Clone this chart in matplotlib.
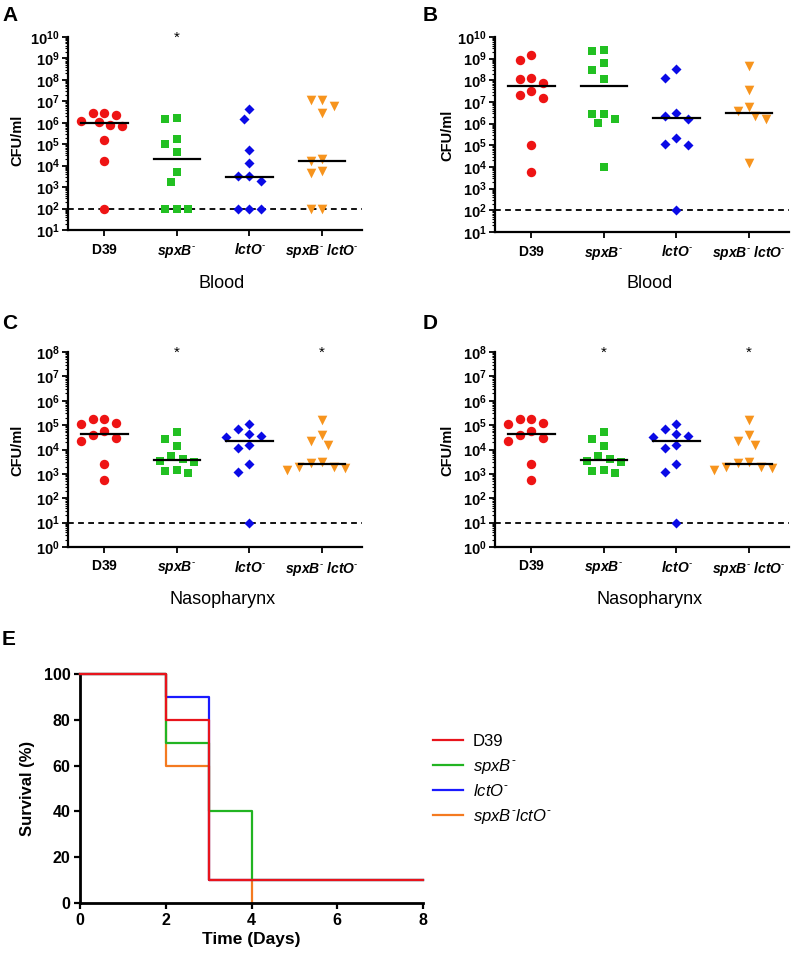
import numpy as np
import matplotlib
matplotlib.use('Agg')
import matplotlib.pyplot as plt
from matplotlib.ticker import LogLocator, FuncFormatter, NullFormatter, MultipleLocator
from matplotlib.lines import Line2D

plt.rcParams['font.family'] = ['Liberation Sans', 'DejaVu Sans']
plt.rcParams['mathtext.fontset'] = 'custom'
plt.rcParams['mathtext.rm'] = 'Liberation Sans'
plt.rcParams['mathtext.it'] = 'Liberation Sans:italic'
plt.rcParams['mathtext.bf'] = 'Liberation Sans:bold'
plt.rcParams['mathtext.bfit'] = 'Liberation Sans:italic:bold'

# =========================
# data (CFU/ml)
# =========================
groups = ['D39', 'spxB-', 'lctO-', 'spxB- lctO-']
group_labels = [
    r'$\mathbf{D39}$',
    r'$\mathbfit{spxB}^{\mathbf{\text{-}}}$',
    r'$\mathbfit{lctO}^{\mathbf{\text{-}}}$',
    r'$\mathbfit{spxB}^{\mathbf{\text{-}}}\ \mathbfit{lctO}^{\mathbf{\text{-}}}$',
]

# A - blood
blood_a_d39 = [2.9e6, 2.9e6, 2.4e6, 1.2e6, 1.1e6, 8.3e5, 6.9e5, 1.5e5, 1.7e4, 1e2]
blood_a_spxb = [1.6e6, 1.45e6, 1.8e5, 1.0e5, 4.2e4, 4.9e3, 1.8e3, 1e2, 1e2, 1e2]
blood_a_lcto = [4.3e6, 1.45e6, 5.4e4, 1.4e4, 3.2e3, 3.2e3, 2.0e3, 1e2, 1e2, 1e2]
blood_a_dko = [1.1e7, 1.1e7, 5.9e6, 2.9e6, 2.0e4, 1.6e4, 5.6e3, 4.4e3, 1e2, 1e2]
blood_a_median = [1.0e6, 2.1e4, 3.1e3, 1.7e4]

# B - blood
blood_b_d39 = [1.5e9, 8.3e8, 1.3e8, 1.1e8, 7.6e7, 3.2e7, 2.2e7, 1.6e7, 1.0e5, 5.9e3]
blood_b_spxb = [2.6e9, 2.2e9, 6.3e8, 3.1e8, 1.1e8, 2.9e6, 2.9e6, 1.6e6, 1.1e6, 1.0e4]
blood_b_lcto = [3.2e8, 1.3e8, 3.1e6, 2.2e6, 1.7e6, 2.2e5, 1.2e5, 1.0e5, 1e2]
blood_b_dko = [4.6e8, 3.5e7, 5.9e6, 3.7e6, 2.2e6, 1.6e6, 1.5e4]
blood_b_median = [5.2e7, 5.6e7, 1.8e6, 3.2e6]

# C / D - nasopharynx
naso_d39 = [1.8e5, 1.8e5, 1.2e5, 1.1e5, 5.5e4, 3.8e4, 3.0e4, 2.2e4, 2.6e3, 5.8e2]
naso_spxb = [5.2e4, 2.8e4, 1.4e4, 5.2e3, 4.2e3, 3.5e3, 3.1e3, 1.4e3, 1.3e3, 1.1e3]
naso_lcto = [1.15e5, 7.1e4, 4.2e4, 3.5e4, 3.2e4, 1.5e4, 1.2e4, 2.6e3, 1.2e3, 1e1]
naso_dko = [1.7e5, 3.8e4, 2.2e4, 1.6e4, 3.2e3, 2.9e3, 1.9e3, 1.9e3, 1.7e3, 1.5e3]
naso_median = [4.3e4, 3.8e3, 2.2e4, 2.6e3]

# E - survival (%)
surv_days_d39 = [0, 2, 3, 8]
surv_d39 = [100, 80, 10, 10]
surv_days_spxb = [0, 2, 3, 4, 8]
surv_spxb = [100, 70, 40, 10, 10]
surv_days_lcto = [0, 2, 3, 8]
surv_lcto = [100, 90, 10, 10]
surv_days_dko = [0, 2, 3, 4]
surv_dko = [100, 60, 10, 0]

dot_colors = ['#ee1414', '#22c022', '#0a0ae6', '#f7941d']
dot_markers = ['o', 's', 'D', 'v']
dot_sizes = [46, 36, 26, 48]
line_colors = ['#e8141c', '#22b422', '#1a1aff', '#f47a20']

W, H = 791, 959
fig = plt.figure(figsize=(W / 100, H / 100), dpi=100)


def rect(x0, y0, x1, y1):
    # pixel box -> figure fraction
    return [x0 / W, 1 - y1 / H, (x1 - x0) / W, (y1 - y0) / H]


def swarm(ax, x0, vals, diam=10.5):
    pts = ax.transData.transform(np.column_stack([np.full(len(vals), float(x0)), vals]))
    placed = []
    xs = np.zeros(len(vals))
    for i in np.argsort(-np.asarray(vals)):
        px, py = pts[i]
        cands = [0.0]
        for k in range(1, 12):
            cands += [-k * diam * 0.55, k * diam * 0.55]
        for c in cands:
            cx = px + c
            if all(np.hypot(cx - qx, py - qy) >= diam for qx, qy in placed):
                break
        placed.append((cx, py))
        xs[i] = ax.transData.inverted().transform((cx, py))[0]
    return xs


def dot_panel(box, data, medians, ylo, yhi, limit, stars):
    ax = fig.add_axes(rect(*box))
    ax.set_yscale('log')
    ax.set_ylim(10.0 ** ylo, 10.0 ** yhi)
    ax.set_xlim(-0.5, 3.55)
    ax.spines['top'].set_visible(False)
    ax.spines['right'].set_visible(False)
    ax.spines['left'].set_linewidth(1.6)
    ax.spines['bottom'].set_linewidth(1.6)

    ax.axhline(limit, color='black', ls=(0, (3.2, 2.4)), lw=1.3, zorder=1)
    for i, vals in enumerate(data):
        xs = swarm(ax, i, vals)
        ax.scatter(xs, vals, marker=dot_markers[i], s=dot_sizes[i], color=dot_colors[i],
                   linewidths=0, zorder=3, clip_on=False)
        ax.plot([i - 0.32, i + 0.32], [medians[i], medians[i]], color='black', lw=1.6, zorder=4)
    for i in stars:
        ax.text(i, 10.0 ** (yhi - 0.02), '*', ha='center', va='center', fontsize=11)

    ax.yaxis.set_major_locator(LogLocator(base=10, numticks=20))
    ax.yaxis.set_major_formatter(FuncFormatter(lambda v, p: r'$\mathbf{10^{%d}}$' % round(np.log10(v))))
    ax.yaxis.set_minor_locator(LogLocator(base=10, subs=np.arange(2, 10), numticks=20))
    ax.yaxis.set_minor_formatter(NullFormatter())
    ax.tick_params(axis='y', which='major', length=4, width=1.3, labelsize=10.5, pad=2)
    ax.tick_params(axis='y', which='minor', length=2, width=0.8)
    ax.set_xticks(range(4))
    ax.set_xticklabels(group_labels)
    ax.tick_params(axis='x', length=4, width=1.3, labelsize=10, pad=5)
    return ax


# =========================
# A-D dot plots
# =========================
dot_panel((68, 37, 362, 230), [blood_a_d39, blood_a_spxb, blood_a_lcto, blood_a_dko],
          blood_a_median, 1, 10, 1e2, [1])
dot_panel((495, 37, 789, 232), [blood_b_d39, blood_b_spxb, blood_b_lcto, blood_b_dko],
          blood_b_median, 1, 10, 1e2, [])
dot_panel((68, 352, 362, 547), [naso_d39, naso_spxb, naso_lcto, naso_dko],
          naso_median, 0, 8, 1e1, [1, 3])
dot_panel((495, 352, 789, 547), [naso_d39, naso_spxb, naso_lcto, naso_dko],
          naso_median, 0, 8, 1e1, [1, 3])

for x, y in [(17, 140), (447, 135), (17, 450), (447, 450)]:
    fig.text(x / W, 1 - y / H, 'CFU/ml', rotation=90, ha='center', va='center',
             fontsize=10.5, fontweight='bold')
for x, y, txt in [(222, 283, 'Blood'), (650, 283, 'Blood'), (223, 600, 'Nasopharynx'), (650, 600, 'Nasopharynx')]:
    fig.text(x / W, 1 - y / H, txt, ha='center', va='center', fontsize=13)
for x, y, txt in [(2, 6, 'A'), (423, 6, 'B'), (2, 314, 'C'), (423, 314, 'D'), (2, 630, 'E')]:
    fig.text(x / W, 1 - y / H, txt, ha='left', va='top', fontsize=15, fontweight='bold')

# =========================
# E survival curves
# =========================
ax = fig.add_axes(rect(80, 674, 423, 903))
ax.step(surv_days_dko, surv_dko, where='post', color=line_colors[3], lw=1.6, clip_on=False, zorder=2)
ax.step(surv_days_lcto, surv_lcto, where='post', color=line_colors[2], lw=1.6, clip_on=False, zorder=3)
ax.step(surv_days_spxb, surv_spxb, where='post', color=line_colors[1], lw=1.6, clip_on=False, zorder=4)
ax.step(surv_days_d39, surv_d39, where='post', color=line_colors[0], lw=1.6, clip_on=False, zorder=5)
ax.set_xlim(0, 8)
ax.set_ylim(0, 100)
ax.xaxis.set_major_locator(MultipleLocator(2))
ax.yaxis.set_major_locator(MultipleLocator(20))
ax.spines['top'].set_visible(False)
ax.spines['right'].set_visible(False)
ax.spines['left'].set_linewidth(2)
ax.spines['bottom'].set_linewidth(2)
ax.tick_params(length=4, width=1.6, labelsize=11.5, pad=3)
for lab in ax.get_xticklabels() + ax.get_yticklabels():
    lab.set_fontweight('bold')
ax.set_xlabel('Time (Days)', fontsize=12.5, fontweight='bold', labelpad=3)
ax.set_ylabel('Survival (%)', fontsize=12, fontweight='bold', labelpad=6)

handles = [Line2D([], [], color=c, lw=1.6) for c in line_colors]
legend_labels = ['D39', r'$\mathit{spxB}^{\text{-}}$', r'$\mathit{lctO}^{\text{-}}$',
                 r'$\mathit{spxB}^{\text{-}}\mathit{lctO}^{\text{-}}$']
fig.legend(handles, legend_labels, loc='upper left', bbox_to_anchor=(418 / W, 1 - 719 / H),
           frameon=False, fontsize=12, handlelength=1.8, handletextpad=0.6, labelspacing=0.45)

plt.savefig('out.png', dpi=100)
